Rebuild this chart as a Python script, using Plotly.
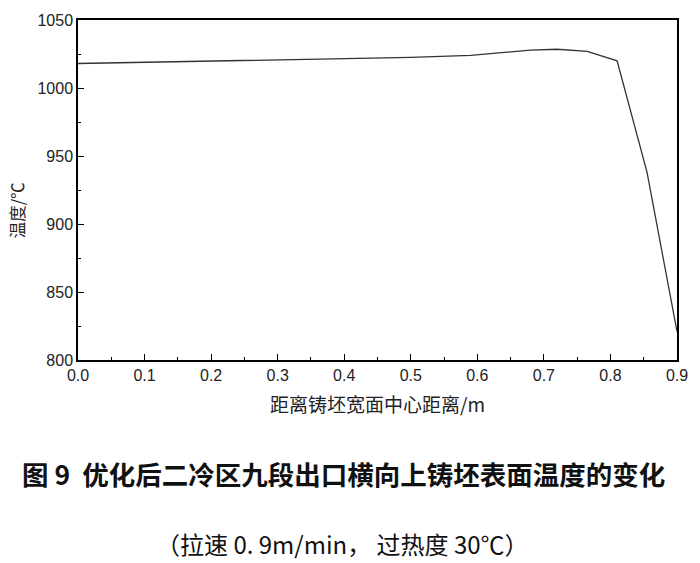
import plotly.graph_objects as go

# distance from slab wide-face centre (m) and surface temperature (°C)
distance = [0.0, 0.1, 0.2, 0.3, 0.4, 0.5, 0.59, 0.68, 0.72, 0.765, 0.81, 0.855, 0.9]
temperature = [1018, 1019, 1020, 1020.8, 1021.5, 1022.5, 1024, 1027.8, 1028.5, 1027, 1020, 938, 821]

x_ticks = [0.0, 0.1, 0.2, 0.3, 0.4, 0.5, 0.6, 0.7, 0.8, 0.9]
y_ticks = [800, 850, 900, 950, 1000, 1050]

fig = go.Figure()
fig.add_trace(go.Scatter(
    x=distance,
    y=temperature,
    mode='lines',
    line=dict(color='#333333', width=1.3),
    showlegend=False,
))

axis_style = dict(
    showline=True,
    linecolor='black',
    linewidth=1.5,
    mirror=True,
    ticks='inside',
    ticklen=6,
    tickwidth=1.2,
    tickcolor='black',
    showgrid=False,
    zeroline=False,
    tickfont=dict(family='Liberation Sans, Arial', size=16, color='#222'),
)

fig.update_xaxes(
    range=[0, 0.9],
    tickvals=x_ticks,
    ticktext=[f'{v:.1f}' for v in x_ticks],
    minor=dict(ticks='inside', ticklen=3, tickcolor='black', dtick=0.05, showgrid=False),
    **axis_style,
)
fig.update_yaxes(
    range=[800, 1050],
    tickvals=y_ticks,
    minor=dict(ticks='inside', ticklen=3, tickcolor='black', dtick=25, showgrid=False),
    **axis_style,
)

cjk = 'Noto Sans CJK SC'
label = dict(xref='paper', yref='paper', xanchor='center', yanchor='middle', showarrow=False)
fig.update_layout(
    width=700,
    height=563,
    margin=dict(l=78, r=19, t=13, b=203),
    plot_bgcolor='white',
    paper_bgcolor='white',
    annotations=[
        dict(text='距离铸坯宽面中心距离/m', x=0.5, y=-0.129,
             font=dict(family=cjk, size=19, color='#222'), **label),
        dict(text='温度/℃', x=-0.102, y=0.44, textangle=-90,
             font=dict(family=cjk, size=16.5, color='#222'), **label),
        dict(text='<b>图 9  优化后二冷区九段出口横向上铸坯表面温度的变化</b>', x=0.443, y=-0.334,
             font=dict(family=cjk, size=26.5, color='#111'), **label),
        dict(text='（拉速 0. 9m/min， 过热度 30℃）', x=0.442, y=-0.539,
             font=dict(family=cjk, size=24, color='#111'), **label),
    ],
)

fig.write_html('out.html', config={'displayModeBar': False},
               post_script="document.body.style.margin='0';")
